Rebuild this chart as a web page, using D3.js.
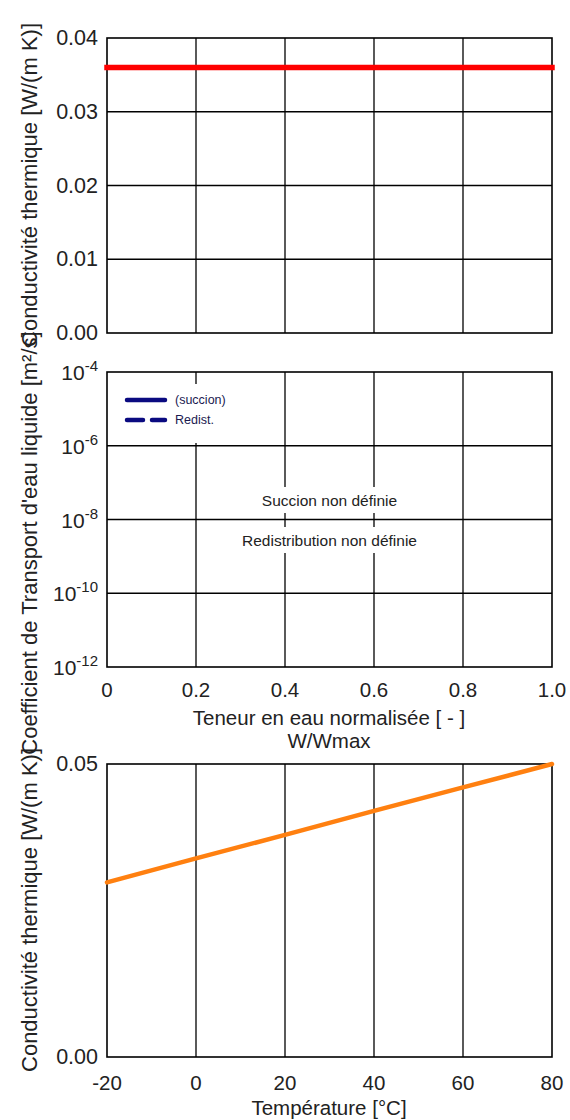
<!DOCTYPE html>
<html><head><meta charset="utf-8">
<script src="https://cdn.jsdelivr.net/npm/d3@7"></script>
<style>body{margin:0;background:#fff}svg{display:block}text{font-family:"Liberation Sans",Arial,sans-serif}</style>
</head><body><svg id="c" width="570" height="1120"></svg>
<script>
// ---- data ----
const waterContent = [0, 1];
const conductivityTop = [0.036, 0.036];
const topYTicks = [0, 0.01, 0.02, 0.03, 0.04];
const xTicksW = [0, 0.2, 0.4, 0.6, 0.8, 1.0];
const xTickLabelsW = ["0", "0.2", "0.4", "0.6", "0.8", "1.0"];
const midYExponents = [-12, -10, -8, -6, -4];
const legendLabels = ["(succion)", "Redist."];
const annotations = ["Succion non définie", "Redistribution non définie"];
const temperatures = [-20, 0, 20, 40, 60, 80];
const conductivityTemp = [0.0298, 0.0339, 0.0379, 0.0420, 0.0460, 0.0500];
const tempTicks = [-20, 0, 20, 40, 60, 80];
const tempTickLabels = ["-20", "0", "20", "40", "60", "80"];
const bottomYTicks = [0, 0.05];
const titles = {
  yTop: "Conductivité thermique [W/(m K)]",
  yMid: "Coefficient de Transport d'eau liquide [m²/s]",
  xMid1: "Teneur en eau normalisée [ - ]",
  xMid2: "W/Wmax",
  yBot: "Conductivité thermique [W/(m K)]",
  xBot: "Température [°C]"
};

const svg = d3.select("#c");
const L = 107, R = 552;
const GRID = "#000", GW = 1.3, TXT = "#222";

function frame(g, y0, y1) {
  g.append("rect").attr("x", L).attr("y", y0).attr("width", R - L).attr("height", y1 - y0)
    .attr("fill", "none").attr("stroke", "#000").attr("stroke-width", 1.6);
}
function yTitle(text, cy) {
  svg.append("text").attr("transform", `translate(29,${cy}) rotate(-90)`)
    .attr("text-anchor", "middle").attr("dominant-baseline", "central")
    .attr("font-size", 22).attr("fill", TXT).text(text);
}
function yTickLabels(g, scale, values, fmt) {
  g.selectAll(null).data(values).join("text")
    .attr("x", 98).attr("y", d => scale(d)).attr("text-anchor", "end").attr("dominant-baseline", "central")
    .attr("font-size", 21.5).attr("fill", TXT).text(fmt);
}
function xTickLabels(g, scale, values, labels, cy) {
  g.selectAll(null).data(values).join("text")
    .attr("x", d => scale(d)).attr("y", cy).attr("text-anchor", "middle").attr("dominant-baseline", "central")
    .attr("font-size", 20.5).attr("fill", TXT).text((d, i) => labels[i]);
}

// ---- top panel ----
const xW = d3.scaleLinear().domain([0, 1]).range([L, R]);
const yTop = d3.scaleLinear().domain([0, 0.04]).range([333, 38]);
const gTop = svg.append("g");
gTop.selectAll("line.h").data(topYTicks.slice(1, -1)).join("line")
  .attr("x1", L).attr("x2", R).attr("y1", d => yTop(d)).attr("y2", d => yTop(d))
  .attr("stroke", GRID).attr("stroke-width", GW);
gTop.selectAll("line.v").data(xTicksW.slice(1, -1)).join("line")
  .attr("y1", yTop(0)).attr("y2", yTop(0.04)).attr("x1", d => xW(d)).attr("x2", d => xW(d))
  .attr("stroke", GRID).attr("stroke-width", GW);
frame(gTop, 38, 333);
yTickLabels(gTop, yTop, topYTicks, d3.format(".2f"));
gTop.append("path").datum(waterContent.map((w, i) => [w, conductivityTop[i]]))
  .attr("d", d3.line().x(d => xW(d[0])).y(d => yTop(d[1])))
  .attr("stroke", "#ff0000").attr("stroke-width", 5.5).attr("fill", "none").attr("stroke-linecap", "square");
yTitle(titles.yTop, 185);

// ---- middle panel ----
const yMid = d3.scaleLog().domain([1e-12, 1e-4]).range([667, 372]);
const gMid = svg.append("g");
gMid.selectAll("line.h").data(midYExponents.slice(1, -1)).join("line")
  .attr("x1", L).attr("x2", R).attr("y1", d => yMid(Math.pow(10, d))).attr("y2", d => yMid(Math.pow(10, d)))
  .attr("stroke", GRID).attr("stroke-width", GW);
gMid.selectAll("line.v").data(xTicksW.slice(1, -1)).join("line")
  .attr("y1", 667).attr("y2", 372).attr("x1", d => xW(d)).attr("x2", d => xW(d))
  .attr("stroke", GRID).attr("stroke-width", GW);
// legend background
gMid.append("rect").attr("x", L + 2).attr("y", 384).attr("width", 150).attr("height", 59).attr("fill", "#fff");
// annotation backgrounds + text
const annY = [500, 540];
annotations.forEach((t, i) => {
  const tx = gMid.append("text").attr("x", xW(0.5)).attr("y", annY[i]).attr("text-anchor", "middle")
    .attr("dominant-baseline", "central").attr("font-size", 15.5).attr("fill", TXT).text(t);
  const bb = tx.node().getBBox();
  gMid.insert("rect", "text").attr("x", bb.x - 4).attr("y", annY[i] - 13).attr("width", bb.width + 8).attr("height", 26).attr("fill", "#fff");
});
frame(gMid, 372, 667);
// legend
const legY = [400, 420];
legendLabels.forEach((t, i) => {
  gMid.append("line").attr("x1", 127).attr("x2", 165).attr("y1", legY[i]).attr("y2", legY[i])
    .attr("stroke", "#0a0a80").attr("stroke-width", 4.5).attr("stroke-linecap", "round")
    .attr("stroke-dasharray", i === 1 ? "16,9" : null);
  gMid.append("text").attr("x", 175).attr("y", legY[i]).attr("dominant-baseline", "central")
    .attr("font-size", 12.5).attr("fill", "#1a1a50").text(t);
});
// y tick labels with superscripts
midYExponents.forEach(e => {
  const t = gMid.append("text").attr("x", 98).attr("y", yMid(Math.pow(10, e)) + 8).attr("text-anchor", "end")
    .attr("fill", TXT).attr("font-size", 21);
  t.append("tspan").text("10");
  t.append("tspan").attr("font-size", 15).attr("dy", -9).text(String(e));
});
xTickLabels(gMid, xW, xTicksW, xTickLabelsW, 689);
svg.append("text").attr("x", 329).attr("y", 717).attr("dominant-baseline", "central").attr("text-anchor", "middle").attr("font-size", 20.5).attr("fill", TXT).text(titles.xMid1);
svg.append("text").attr("x", 329).attr("y", 740).attr("dominant-baseline", "central").attr("text-anchor", "middle").attr("font-size", 20.5).attr("fill", TXT).text(titles.xMid2);
yTitle(titles.yMid, 543);

// ---- bottom panel ----
const xT = d3.scaleLinear().domain([-20, 80]).range([L, R]);
const yBot = d3.scaleLinear().domain([0, 0.05]).range([1057, 764]);
const gBot = svg.append("g");
gBot.selectAll("line.v").data(tempTicks.slice(1, -1)).join("line")
  .attr("y1", 1057).attr("y2", 764).attr("x1", d => xT(d)).attr("x2", d => xT(d))
  .attr("stroke", GRID).attr("stroke-width", GW);
frame(gBot, 764, 1057);
gBot.append("path").datum(temperatures.map((t, i) => [t, conductivityTemp[i]]))
  .attr("d", d3.line().x(d => xT(d[0])).y(d => yBot(d[1])))
  .attr("stroke", "#ff8010").attr("stroke-width", 4.5).attr("fill", "none").attr("stroke-linecap", "round");
yTickLabels(gBot, yBot, bottomYTicks, d3.format(".2f"));
xTickLabels(gBot, xT, tempTicks, tempTickLabels, 1082);
svg.append("text").attr("x", 329).attr("y", 1107).attr("dominant-baseline", "central").attr("text-anchor", "middle").attr("font-size", 20.5).attr("fill", TXT).text(titles.xBot);
yTitle(titles.yBot, 910);
</script></body></html>
